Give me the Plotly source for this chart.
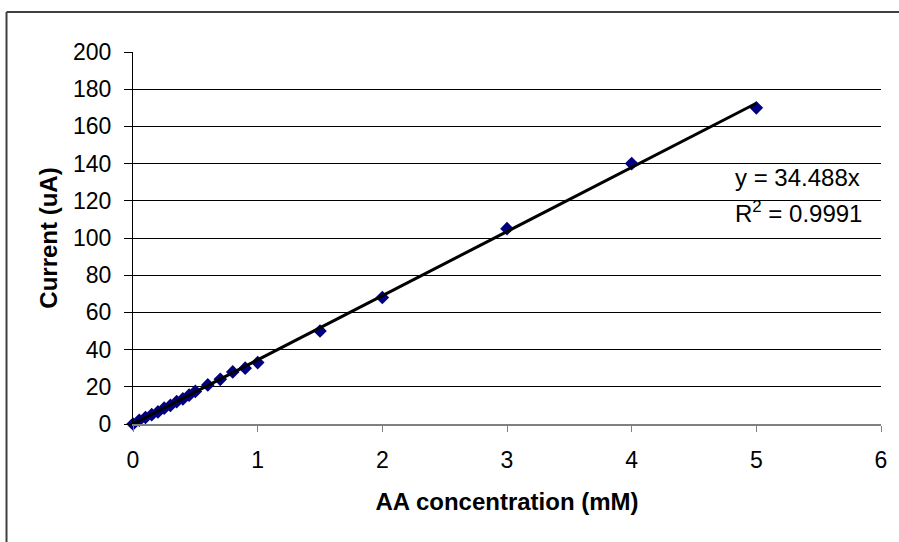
import plotly.graph_objects as go

# Data
conc_mM = [0, 0.05, 0.1, 0.15, 0.2, 0.25, 0.3, 0.35, 0.4, 0.45, 0.5,
           0.6, 0.7, 0.8, 0.9, 1.0, 1.5, 2.0, 3.0, 4.0, 5.0]
current_uA = [0, 2, 3.5, 5, 6.5, 8.5, 10, 12, 13.5, 15.5, 17.5,
              21, 24, 28, 30, 33, 50, 68, 105, 140, 170]
trend_slope = 34.488
trend_r2 = 0.9991
trend_x = [0, 5]
trend_y = [trend_slope * v for v in trend_x]

y_ticks = list(range(0, 201, 20))
x_ticks = list(range(0, 7))

FONT = "Liberation Sans, Arial, sans-serif"

fig = go.Figure()
fig.add_trace(go.Scatter(
    x=conc_mM, y=current_uA, mode="markers",
    marker=dict(symbol="diamond", size=10.5, color="#000080",
                line=dict(width=0)),
    cliponaxis=False, showlegend=False))
fig.add_trace(go.Scatter(
    x=trend_x, y=trend_y, mode="lines",
    line=dict(color="black", width=3),
    cliponaxis=False, showlegend=False))

fig.update_layout(
    width=899, height=542,
    margin=dict(l=133, r=15, t=52, b=118),
    paper_bgcolor="white", plot_bgcolor="white",
    font=dict(family=FONT, size=23, color="black"),
    showlegend=False,
    xaxis=dict(
        range=[0, 6], tickvals=x_ticks, ticktext=[str(v) for v in x_ticks],
        showgrid=False, zeroline=False,
        showline=True, linecolor="#808080", linewidth=2,
        ticks="outside", ticklen=6, tickcolor="#808080", tickwidth=1,
        tickfont=dict(size=23), ticklabelstandoff=8,
        title=dict(text="<b>AA concentration (mM)</b>", font=dict(size=24),
                   standoff=22),
    ),
    yaxis=dict(
        range=[0, 200], tickvals=y_ticks, ticktext=[str(v) for v in y_ticks],
        showgrid=True, gridcolor="black", gridwidth=1, zeroline=False,
        showline=True, linecolor="black", linewidth=1,
        ticks="outside", ticklen=8, tickcolor="black", tickwidth=1,
        tickfont=dict(size=23), ticklabelstandoff=8,
        title=dict(text="<b>Current (uA)</b>", font=dict(size=24),
                   standoff=8),
    ),
    shapes=[
        dict(type="line", xref="paper", yref="paper",
             x0=-0.1691, x1=-0.1691, y0=-0.5, y1=1.1075,
             line=dict(color="#404040", width=2), layer="below"),
        dict(type="line", xref="paper", yref="paper",
             x0=-0.1691, x1=1.2, y0=1.1075, y1=1.1075,
             line=dict(color="#404040", width=2), layer="below"),
    ],
    annotations=[
        dict(x=4.81, y=132.3, xref="x", yref="y", text="y = 34.488x",
             showarrow=False, xanchor="left", yanchor="middle",
             font=dict(size=24)),
        dict(x=4.81, y=114, xref="x", yref="y",
             text="R<sup>2</sup> = %.4f" % trend_r2,
             showarrow=False, xanchor="left", yanchor="middle",
             font=dict(size=24)),
    ],
)

fig.write_html("out.html")
